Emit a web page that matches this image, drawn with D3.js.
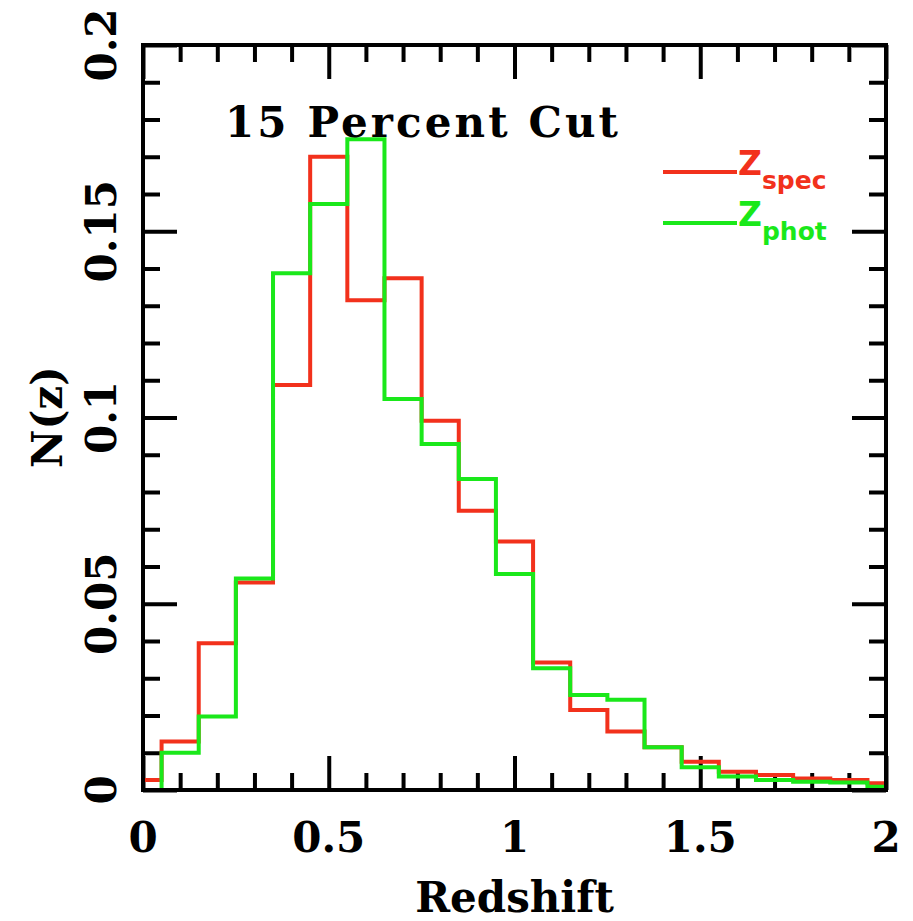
<!DOCTYPE html>
<html>
<head>
<meta charset="utf-8">
<script src="https://cdn.jsdelivr.net/npm/d3@7"></script>
<style>
  body { margin: 0; background: #fff; }
  svg { display: block; }
</style>
</head>
<body>
<div id="my_dataviz"></div>
<script>
// bin edges (first and last bins are half width)
var binEdges = [0, 0.05, 0.15, 0.25, 0.35, 0.45, 0.55, 0.65, 0.75, 0.85, 0.95,
    1.05, 1.15, 1.25, 1.35, 1.45, 1.55, 1.65, 1.75, 1.85, 1.95, 2.0];

var zSpec = [0.0027, 0.013, 0.0394, 0.0557, 0.1087, 0.170, 0.1315, 0.1374, 0.0991, 0.075,
    0.0667, 0.0342, 0.0215, 0.0157, 0.0115, 0.0076, 0.0049, 0.0040, 0.0031, 0.0027, 0.0018];

var zPhot = [0.0, 0.010, 0.0197, 0.0568, 0.1387, 0.1573, 0.1747, 0.105, 0.0929, 0.0835,
    0.058, 0.0327, 0.0255, 0.0242, 0.0115, 0.0061, 0.0036, 0.0027, 0.0022, 0.002, 0.0009];

var xMajor = [0, 0.5, 1, 1.5, 2];
var xLabels = ["0", "0.5", "1", "1.5", "2"];
var yMajor = [0, 0.05, 0.1, 0.15, 0.2];
var yLabels = ["0", "0.05", "0.1", "0.15", "0.2"];
var xMinor = [0.1, 0.2, 0.3, 0.4, 0.6, 0.7, 0.8, 0.9, 1.1, 1.2, 1.3, 1.4, 1.6, 1.7, 1.8, 1.9];
var yMinor = [0.01, 0.02, 0.03, 0.04, 0.06, 0.07, 0.08, 0.09, 0.11, 0.12, 0.13, 0.14,
    0.16, 0.17, 0.18, 0.19];

var redCol = "#f2311c",
    greenCol = "#1ae81a";

var margin = { top: 45, right: 27, bottom: 131, left: 143 },
    width = 913 - margin.left - margin.right,
    height = 921 - margin.top - margin.bottom;

var svg = d3.select("#my_dataviz")
    .append("svg")
    .attr("width", 913)
    .attr("height", 921)
    .append("g")
    .attr("transform", "translate(" + margin.left + "," + margin.top + ")");

var x = d3.scaleLinear().domain([0, 2]).range([0, width]);
var y = d3.scaleLinear().domain([0, 0.2]).range([height, 0]);

var serif = "'DejaVu Serif', 'Liberation Serif', serif";

// ticks, all pointing inward, on all four sides
function tickAxis(axis, vals, len, tr) {
    var g = svg.append("g")
        .attr("transform", tr)
        .call(axis.tickValues(vals).tickSize(len).tickFormat(""));
    g.select(".domain").remove();
    g.selectAll("line").attr("stroke", "black").attr("stroke-width", 4);
}
tickAxis(d3.axisBottom(x), xMinor, -17, "translate(0," + height + ")");
tickAxis(d3.axisBottom(x), xMajor, -34, "translate(0," + height + ")");
tickAxis(d3.axisTop(x), xMinor, -17, "translate(0,0)");
tickAxis(d3.axisTop(x), xMajor, -34, "translate(0,0)");
tickAxis(d3.axisLeft(y), yMinor, -17, "translate(0,0)");
tickAxis(d3.axisLeft(y), yMajor, -34, "translate(0,0)");
tickAxis(d3.axisRight(y), yMinor, -17, "translate(" + width + ",0)");
tickAxis(d3.axisRight(y), yMajor, -34, "translate(" + width + ",0)");

// histogram outlines
function stepPoints(vals) {
    var pts = [];
    vals.forEach(function(v, i) {
        pts.push([binEdges[i], v]);
        pts.push([binEdges[i + 1], v]);
    });
    return pts;
}
var line = d3.line()
    .x(function(d) { return x(d[0]); })
    .y(function(d) { return y(d[1]); });

svg.append("path")
    .attr("d", line(stepPoints(zSpec)))
    .attr("fill", "none")
    .attr("stroke", redCol)
    .attr("stroke-width", 4);

svg.append("path")
    .attr("d", line(stepPoints(zPhot)))
    .attr("fill", "none")
    .attr("stroke", greenCol)
    .attr("stroke-width", 4);

// frame
svg.append("rect")
    .attr("x", 0)
    .attr("y", 0)
    .attr("width", width)
    .attr("height", height)
    .attr("fill", "none")
    .attr("stroke", "black")
    .attr("stroke-width", 4);

// tick labels
svg.selectAll("xlab")
    .data(xMajor)
    .enter()
    .append("text")
    .attr("x", function(d) { return x(d); })
    .attr("y", height + 62)
    .attr("text-anchor", "middle")
    .style("font-family", serif)
    .style("font-weight", "bold")
    .style("font-size", "42px")
    .text(function(d, i) { return xLabels[i]; });

svg.selectAll("ylab")
    .data(yMajor)
    .enter()
    .append("text")
    .attr("transform", function(d) { return "translate(-27," + y(d) + ")rotate(-90)"; })
    .attr("text-anchor", "middle")
    .style("font-family", serif)
    .style("font-weight", "bold")
    .style("font-size", "42px")
    .text(function(d, i) { return yLabels[i]; });

// axis titles
svg.append("text")
    .attr("x", width / 2)
    .attr("y", height + 122)
    .attr("text-anchor", "middle")
    .style("font-family", serif)
    .style("font-weight", "bold")
    .style("font-size", "42px")
    .text("Redshift");

svg.append("text")
    .attr("transform", "translate(-81," + (417 - margin.top) + ")rotate(-90)")
    .attr("text-anchor", "middle")
    .style("font-family", serif)
    .style("font-weight", "bold")
    .style("font-size", "42px")
    .text("N(z)");

svg.append("text")
    .attr("x", 225 - margin.left)
    .attr("y", 137 - margin.top)
    .attr("textLength", 393)
    .attr("lengthAdjust", "spacing")
    .style("font-family", serif)
    .style("font-weight", "bold")
    .style("font-size", "42px")
    .text("15 Percent Cut");

// legend
var legend = [
    { name: "z", sub: "spec", col: redCol, ly: 172 },
    { name: "z", sub: "phot", col: greenCol, ly: 223 }
];
legend.forEach(function(d) {
    var gy = d.ly - margin.top;
    svg.append("line")
        .attr("x1", 663 - margin.left)
        .attr("x2", 737 - margin.left)
        .attr("y1", gy)
        .attr("y2", gy)
        .attr("stroke", d.col)
        .attr("stroke-width", 4);
    var t = svg.append("text")
        .attr("x", 738 - margin.left)
        .attr("y", gy + 3)
        .style("font-family", "'DejaVu Sans', sans-serif")
        .style("font-weight", "bold")
        .style("fill", d.col);
    t.append("tspan")
        .style("font-size", "33px")
        .text(d.name.toUpperCase());
    t.append("tspan")
        .attr("dy", 14)
        .style("font-size", "25px")
        .text(d.sub);
});
</script>
</body>
</html>
